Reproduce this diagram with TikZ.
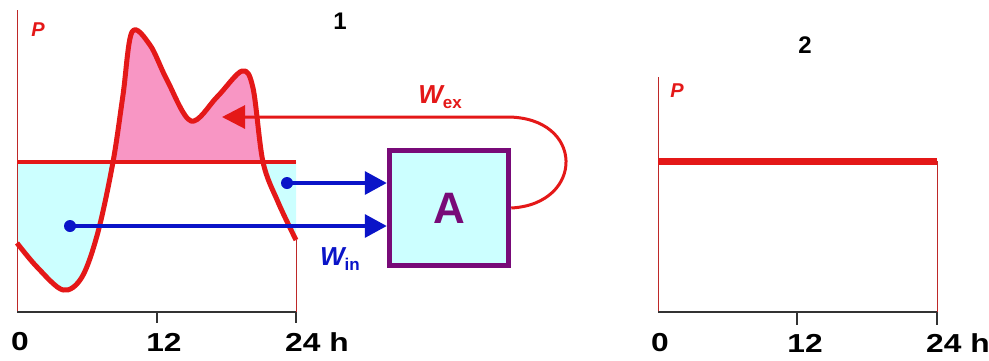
\documentclass[tikz,border=0pt]{standalone}
\usepackage{graphicx}
\usepackage{fontspec}
\setmainfont{Liberation Sans}
\usetikzlibrary{arrows.meta,positioning}
\definecolor{loadred}{RGB}{228,24,24}
\definecolor{axred}{RGB}{190,40,40}
\definecolor{peakpink}{RGB}{248,150,196}
\definecolor{lowcyan}{RGB}{204,255,255}
\definecolor{inblue}{RGB}{10,20,200}
\definecolor{accpurple}{RGB}{120,10,120}
\newcommand{\widenum}[1]{\scalebox{1.22}[1]{#1}}

\begin{document}
\begin{tikzpicture}[x=1pt,y=-1pt,font=\bfseries\fontsize{26}{30}\selectfont,
  lbl/.style={inner sep=0pt},
  plab/.style={inner sep=0pt,text=loadred,font=\bfseries\itshape\fontsize{20}{24}\selectfont},
  ax/.style={line width=1.4pt,black!80},
  vax/.style={line width=1pt,axred},
  abox/.style={draw=accpurple,fill=lowcyan,line width=5.5pt,minimum width=119pt,minimum height=115pt,
    text=accpurple,font=\bfseries\fontsize{44}{50}\selectfont},
  inarr/.style={-{Triangle[length=22pt,width=23pt]},line width=3.5pt,inblue},
  exarr/.style={-{Triangle[length=23pt,width=23pt]},line width=3pt,loadred}]
\useasboundingbox (0,0) rectangle (989,360);

% chart 1: daily load
\foreach \ya/\yb/\col in {0/162/peakpink,162/312/lowcyan}{
  \begin{scope}
    \clip (17,\ya) rectangle (296,\yb);
    \fill[\col] plot[smooth,tension=0.55] coordinates {(17,243) (37,267) (63,290) (82,277) (98,232)
      (113,162) (123,95) (132,32) (150,45) (167,80) (191,121) (217,97) (242,71) (253,88) (263,162)
      (278,202) (296,240)} -- (296,162) -- (17,162) -- cycle;
  \end{scope}}
\draw[vax] (17,10) -- (17,312);
\draw[vax] (296,240) -- (296,312);
\draw[ax] (17,312) -- (296,312) (157,312) -- (157,323) (296,312) -- (296,323);
\draw[loadred,line width=3.5pt] (17,162) -- (296,162);
\draw[loadred,line width=5pt,line join=round] plot[smooth,tension=0.55] coordinates {(17,243) (37,267)
  (63,290) (82,277) (98,232) (113,162) (123,95) (132,32) (150,45) (167,80) (191,121) (217,97)
  (242,71) (253,88) (263,162) (278,202) (296,240)};
\node[plab] (p1) at (38,30) {P};
\node[lbl] (t1) at (340,21) {\fontsize{24}{28}\selectfont 1};
\node[lbl] (x10) at (20,342) {\widenum{0}};
\node[lbl] (x112) at (164,342) {\widenum{12}};
\node[lbl,anchor=west] (x124) at (285,342) {\widenum{24 h}};

% accumulator
\node[abox] (A) at (449,208) {A};
\coordinate (d1) at (287,183);
\coordinate (d2) at (70,226);
\fill[inblue] (d1) circle (6) (d2) circle (6);
\draw[inarr] (d1) -- (A.west |- d1);
\draw[inarr] (d2) -- (A.west |- d2);
\coordinate (ret) at (507,117);
\coordinate (tip) at (222,117);
\draw[exarr] (A.east) .. controls (585,204) and (585,117) .. (ret) -- (tip);
\node[lbl,text=loadred] (wex) at (440,97) {\itshape W\upshape\raisebox{-5pt}{\fontsize{17}{18}\selectfont ex}};
\node[lbl,text=inblue] (win) at (340,259) {\itshape W\upshape\raisebox{-5pt}{\fontsize{17}{18}\selectfont in}};

% chart 2: levelled load
\draw[vax] (658,77) -- (658,312);
\draw[vax] (937,161) -- (937,312);
\draw[ax] (658,312) -- (937,312) (797,312) -- (797,325) (937,312) -- (937,325);
\draw[loadred,line width=7pt] (658,161) -- (937,161);
\node[plab] (p2) at (677,91) {P};
\node[lbl] (t2) at (805,45) {\fontsize{24}{28}\selectfont 2};
\node[lbl] (x20) at (660,343) {\widenum{0}};
\node[lbl] (x212) at (805,343) {\widenum{12}};
\node[lbl,anchor=west] (x224) at (926,343) {\widenum{24 h}};
\end{tikzpicture}
\end{document}
